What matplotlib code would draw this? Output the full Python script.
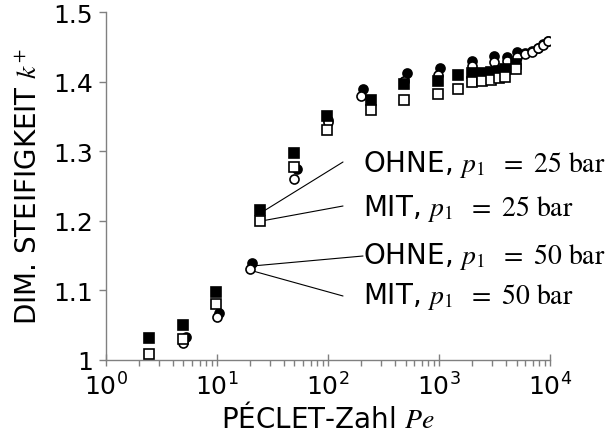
import matplotlib
matplotlib.use("Agg")
import matplotlib.pyplot as plt
from matplotlib.ticker import LogLocator, NullFormatter

plt.rcParams["font.family"] = "DejaVu Sans"
plt.rcParams["mathtext.fontset"] = "stix"

# OHNE, p1 = 25 bar (filled squares)
pe_ohne25 = [2.44, 4.97, 9.86, 24.6, 49.7, 99, 244, 487, 975, 1472,
             1972, 2450, 2950, 3450, 3950, 4900]
k_ohne25 = [1.031, 1.050, 1.098, 1.215, 1.297, 1.350, 1.374, 1.397, 1.401, 1.410,
            1.412, 1.413, 1.414, 1.416, 1.418, 1.425]

# MIT, p1 = 25 bar (open squares)
pe_mit25 = [2.44, 4.97, 9.86, 24.6, 49.7, 99, 244, 487, 975, 1472,
            1972, 2450, 2950, 3450, 3950, 4900]
k_mit25 = [1.009, 1.030, 1.080, 1.200, 1.278, 1.330, 1.359, 1.374, 1.382, 1.390,
           1.400, 1.401, 1.403, 1.405, 1.407, 1.418]

# OHNE, p1 = 50 bar (filled circles)
pe_ohne50 = [5.25, 10.5, 20.5, 52.6, 100, 205, 511, 1020, 1972, 3128,
             4070, 5010, 5960, 6840, 7750, 8710, 9530]
k_ohne50 = [1.033, 1.067, 1.140, 1.274, 1.345, 1.390, 1.412, 1.419, 1.430, 1.437,
            1.436, 1.443, 1.441, 1.444, 1.449, 1.454, 1.459]

# MIT, p1 = 50 bar (open circles)
pe_mit50 = [5.0, 10.0, 20.0, 50.0, 100, 200, 487, 975, 1972, 3128,
            4070, 5010, 5960, 6840, 7750, 8710, 9530]
k_mit50 = [1.024, 1.061, 1.131, 1.260, 1.342, 1.379, 1.401, 1.410, 1.423, 1.428,
           1.430, 1.435, 1.440, 1.443, 1.448, 1.453, 1.459]

labels = [r"OHNE, $p_1\ \ =\ 25\ \mathrm{bar}$",
          r"MIT, $p_1\ \ =\ 25\ \mathrm{bar}$",
          r"OHNE, $p_1\ \ =\ 50\ \mathrm{bar}$",
          r"MIT, $p_1\ \ =\ 50\ \mathrm{bar}$"]

W, H = 605, 439
fig = plt.figure(figsize=(W / 100, H / 100), dpi=100)
ax = fig.add_axes([0.175, 0.178, 0.734, 0.792])

ms = 6.5
mew = 1.2
ax.plot(pe_ohne50, k_ohne50, "o", ms=ms, mfc="black", mec="black", mew=mew, ls="none", zorder=3)
ax.plot(pe_mit50, k_mit50, "o", ms=ms, mfc="white", mec="black", mew=mew, ls="none", zorder=4)
ax.plot(pe_ohne25, k_ohne25, "s", ms=ms, mfc="black", mec="black", mew=mew, ls="none", zorder=5)
ax.plot(pe_mit25, k_mit25, "s", ms=ms, mfc="white", mec="black", mew=mew, ls="none", zorder=6)

ax.set_xscale("log")
ax.set_xlim(1, 1e4)
ax.set_ylim(1.0, 1.5)
ax.set_yticks([1.0, 1.1, 1.2, 1.3, 1.4, 1.5])
ax.set_yticklabels(["1", "1.1", "1.2", "1.3", "1.4", "1.5"])
ax.xaxis.set_major_locator(LogLocator(base=10, numticks=10))
ax.xaxis.set_minor_locator(LogLocator(base=10, subs=range(2, 10), numticks=10))
ax.xaxis.set_minor_formatter(NullFormatter())

for s in ["top", "right"]:
    ax.spines[s].set_visible(False)
for s in ["left", "bottom"]:
    ax.spines[s].set_color("#808080")
    ax.spines[s].set_linewidth(1.0)

ax.tick_params(axis="x", which="major", direction="inout", length=8, width=1,
               color="#808080", labelsize=18, pad=5)
ax.tick_params(axis="x", which="minor", direction="out", length=4, width=1,
               color="#808080")
ax.tick_params(axis="y", which="major", direction="out", length=5, width=1,
               color="#808080", labelsize=18, pad=4)

ax.set_xlabel(r"PÉCLET-Zahl $Pe$", fontsize=20, labelpad=2)
ax.set_ylabel(r"DIM. STEIFIGKEIT $k^{+}$", fontsize=20, labelpad=8)

# leader lines: from marker to line end (figure pixels), label text to the right
line_kw = dict(xycoords="data", textcoords="figure pixels",
               arrowprops=dict(arrowstyle="-", color="black", lw=0.8,
                               shrinkA=0, shrinkB=0))
ax.annotate("", xy=(pe_ohne25[3] * 1.1, k_ohne25[3]), xytext=(343, H - 163), **line_kw)
ax.annotate("", xy=(pe_mit25[3] * 1.05, k_mit25[3]), xytext=(343, H - 207), **line_kw)
ax.annotate("", xy=(pe_ohne50[2] * 1.02, k_ohne50[2] - 0.005), xytext=(363, H - 257), **line_kw)
ax.annotate("", xy=(pe_mit50[2] * 1.1, k_mit50[2] - 0.004), xytext=(343, H - 297), **line_kw)

for lab, ypix in zip(labels, [165, 209, 257, 297]):
    fig.text(363 / W, 1 - ypix / H, lab, fontsize=20, ha="left", va="center")

fig.savefig("out.png", dpi=100, facecolor="white")
